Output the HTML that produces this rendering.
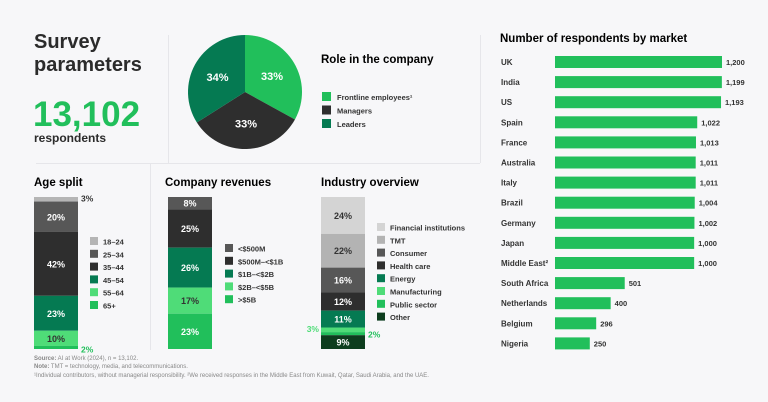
<!DOCTYPE html>
<html><head><meta charset="utf-8">
<style>
body{margin:0;background:#f7f7f9;font-family:"Liberation Sans",sans-serif;color:#2b2b2b;}
#c{position:relative;width:768px;height:402px;overflow:hidden;}
svg{position:absolute;left:0;top:0}
</style></head><body>
<div id="c">
<svg id="s" width="768" height="402" xmlns="http://www.w3.org/2000/svg" font-family="Liberation Sans, sans-serif">
<g stroke="#e6e6ea" stroke-width="1">
<line x1="168.5" y1="35" x2="168.5" y2="163"/>
<line x1="36" y1="163.5" x2="480" y2="163.5"/>
<line x1="150.5" y1="163" x2="150.5" y2="350"/>
<line x1="480.5" y1="35" x2="480.5" y2="163"/>
</g>
<text x="34" y="48" font-size="20" font-weight="bold" fill="#2b2b2b">Survey</text>
<text x="34" y="71" font-size="20" font-weight="bold" fill="#2b2b2b">parameters</text>
<text x="33" y="126" font-size="35" font-weight="bold" fill="#21bf5b">13,102</text>
<text x="34" y="142" font-size="12" font-weight="bold" fill="#2b2b2b">respondents</text>
<g id="pie"></g>
<text x="321" y="63" font-size="11.5" font-weight="bold">Role in the company</text>
<g id="pieLegend"></g>
<text x="34" y="186" font-size="11.5" font-weight="bold">Age split</text>
<text x="165" y="186" font-size="11.5" font-weight="bold">Company revenues</text>
<text x="321" y="186" font-size="11.5" font-weight="bold">Industry overview</text>
<g id="stacks"></g>
<text x="500" y="42" font-size="11.5" font-weight="bold">Number of respondents by market</text>
<g id="market"></g>
<g font-size="6" fill="#888">
<text x="34" y="360"><tspan font-weight="bold">Source:</tspan> AI at Work (2024), n = 13,102.</text>
<text x="34" y="368"><tspan font-weight="bold">Note:</tspan> TMT = technology, media, and telecommunications.</text>
<text x="34" y="377">¹Individual contributors, without managerial responsibility. ²We received responses in the Middle East from Kuwait, Qatar, Saudi Arabia, and the UAE.</text>
</g>
</svg>
</div>
<script>
const NS="http://www.w3.org/2000/svg";
function el(t,a,p){const e=document.createElementNS(NS,t);for(const k in a)e.setAttribute(k,a[k]);p.appendChild(e);return e;}
function tx(p,x,y,s,a){const e=el("text",a,p);e.setAttribute("x",x);e.setAttribute("y",y);e.textContent=s;return e;}

// Pie data
const roleLabels=["Frontline employees¹","Managers","Leaders"];
const roleValues=[33,33,34];
const roleColors=["#21bf5b","#2e2e2e","#057a52"];

// Age data
const ageLabels=["18–24","25–34","35–44","45–54","55–64","65+"];
const ageValues=[3,20,42,23,10,2];
// Revenue data
const revLabels=["<$500M","$500M–<$1B","$1B–<$2B","$2B–<$5B",">$5B"];
const revValues=[8,25,26,17,23];
// Industry data
const indLabels=["Financial institutions","TMT","Consumer","Health care","Energy","Manufacturing","Public sector","Other"];
const indValues=[24,22,16,12,11,3,2,9];

// Market data
const marketLabels=["UK","India","US","Spain","France","Australia","Italy","Brazil","Germany","Japan","Middle East²","South Africa","Netherlands","Belgium","Nigeria"];
const marketValues=[1200,1199,1193,1022,1013,1011,1011,1004,1002,1000,1000,501,400,296,250];

// Pie
const pie=document.getElementById("pie");
const cx=245,cy=92,r=57;
const total=roleValues.reduce((a,b)=>a+b,0);
let ang=0;
roleValues.forEach((v,i)=>{
  const a0=ang, a1=ang+v/total*2*Math.PI; ang=a1;
  const x0=cx+r*Math.sin(a0),y0=cy-r*Math.cos(a0),x1=cx+r*Math.sin(a1),y1=cy-r*Math.cos(a1);
  const p=el("path",{d:`M${cx},${cy}L${x0},${y0}A${r},${r} 0 ${a1-a0>Math.PI?1:0} 1 ${x1},${y1}Z`,fill:roleColors[i]},pie);
  
  
  const am=(a0+a1)/2;
  const t=tx(pie,cx+r*0.55*Math.sin(am),cy-r*0.55*Math.cos(am)+4,v+"%",{"font-size":11,"font-weight":"bold",fill:"#fff","text-anchor":"middle"});
  
  
});
const pl=document.getElementById("pieLegend");
roleLabels.forEach((l,i)=>{
  const y=92+i*13.5;
  const b=el("rect",{x:322,y:y,width:9,height:9,fill:roleColors[i]},pl);
  
  
  const t=tx(pl,337,y+8,l,{"font-size":7.5,"font-weight":"bold",fill:"#333"});
  
  
});

// Stacks
const stacks=document.getElementById("stacks");
const TOP=197,H=152,BW=44;
function stack(name,x,vals,labels,colors,txtColors,lx,ly,outside){
  const g=el("g",{},stacks);
  
  
  const sum=vals.reduce((a,b)=>a+b,0);
  let y=TOP;
  vals.forEach((v,i)=>{
    const h=v/sum*H;
    const r=el("rect",{x:x,y:y,width:BW,height:h,fill:colors[i]},g);
    
    
    if(outside[i]){
      const o=outside[i];
      const t=tx(g,o.side>0?x+BW+3:x-2,y+h/2+3+(o.dy||0),v+"%",{"font-size":8.5,"font-weight":"bold",fill:o.c,"text-anchor":o.side>0?"start":"end"});
      
      
    } else {
      const t=tx(g,x+BW/2,y+h/2+3.5,v+"%",{"font-size":9,"font-weight":"bold",fill:txtColors[i],"text-anchor":"middle"});
      
      
    }
    y+=h;
  });
  labels.forEach((l,i)=>{
    const yy=ly+i*12.8;
    const b=el("rect",{x:lx,y:yy,width:8,height:8,fill:colors[i]},g);
    
    
    const t=tx(g,lx+13,yy+7.5,l,{"font-size":7.5,"font-weight":"bold",fill:"#333"});
    
    
  });
}
stack("age-stacked-bar",34,ageValues,ageLabels,
 ["#b5b5b5","#575757","#2e2e2e","#057a52","#4fdc78","#21bf5b"],
 ["#333","#fff","#fff","#fff","#333","#333"],90,237,
 {0:{side:1,c:"#333",dy:-1},5:{side:1,c:"#21bf5b",dy:2}});
stack("revenue-stacked-bar",168,revValues,revLabels,
 ["#575757","#2e2e2e","#057a52","#4fdc78","#21bf5b"],
 ["#fff","#fff","#fff","#333","#fff"],225,244,{});
stack("industry-stacked-bar",321,indValues,indLabels,
 ["#d4d4d4","#b3b3b3","#575757","#2e2e2e","#057a52","#4fdc78","#21bf5b","#0d3d1e"],
 ["#333","#333","#fff","#fff","#fff","#333","#333","#fff"],377,223,
 {5:{side:-1,c:"#4fdc78",dy:-1},6:{side:1,c:"#21bf5b",dy:1}});

// Market bars
const mk=document.getElementById("market");
const X0=555,maxW=167,maxV=1200;
const xs=v=>v/maxV*maxW;
marketLabels.forEach((l,i)=>{
  const y=62+i*20.1;
  const t=tx(mk,501,y+3,l,{"font-size":8,"font-weight":"bold",fill:"#333"});
  
  
  const b=el("rect",{x:X0,y:y-6,width:xs(marketValues[i]),height:12,fill:"#21bf5b"},mk);
  
  
  const v=tx(mk,X0+xs(marketValues[i])+4,y+3,marketValues[i].toLocaleString("en-US"),{"font-size":7.5,"font-weight":"bold",fill:"#333"});
  
  
});
</script>
</body></html>
